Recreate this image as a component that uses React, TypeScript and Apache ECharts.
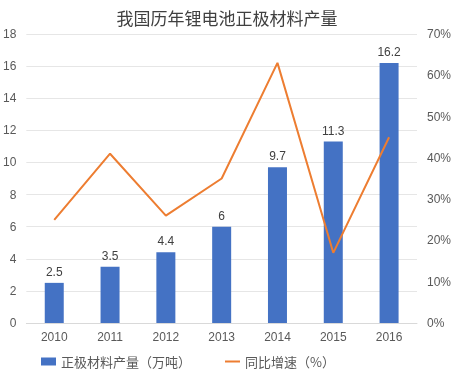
import React, { useEffect, useRef } from "react";
import * as echarts from "echarts";

const categories = ["2010", "2011", "2012", "2013", "2014", "2015", "2016"];
const production = [2.5, 3.5, 4.4, 6, 9.7, 11.3, 16.2];
const growth = [25, 41, 26, 35, 63, 17, 45];

export default function App() {
  const ref = useRef<HTMLDivElement>(null);
  useEffect(() => {
    const chart = echarts.init(ref.current!, null, { renderer: "svg" });
    const font = "'Noto Sans CJK SC', sans-serif";
    const numFont = "'Liberation Sans', 'Noto Sans CJK SC', sans-serif";
    chart.setOption({
      animation: false,
      textStyle: { fontFamily: font },
      title: {
        text: "我国历年锂电池正极材料产量",
        left: "center",
        top: 4,
        textStyle: { fontSize: 17, fontWeight: "normal", color: "#404040", fontFamily: font },
      },
      grid: { left: 25, right: 32, top: 34, bottom: 54 },
      legend: {
        bottom: 4,
        left: 36,
        itemGap: 34,
        itemWidth: 15,
        itemHeight: 8,
        textStyle: { fontSize: 13, color: "#595959", fontFamily: font },
        data: [
          { name: "正极材料产量（万吨）", icon: "rect" },
          { name: "同比增速（%）", icon: "path://M0 0 H15 V2 H0 Z", itemStyle: { color: "#ED7D31" } },
        ],
      },
      xAxis: {
        type: "category",
        data: categories,
        axisLine: { lineStyle: { color: "#D9D9D9" } },
        axisTick: { show: false },
        axisLabel: { color: "#595959", fontSize: 12, margin: 8, fontFamily: numFont },
      },
      yAxis: [
        {
          type: "value",
          min: 0,
          max: 18,
          interval: 2,
          axisLine: { show: false },
          axisTick: { show: false },
          axisLabel: { color: "#595959", fontSize: 12, margin: 10, fontFamily: numFont },
          splitLine: { lineStyle: { color: "#E6E6E6" } },
        },
        {
          type: "value",
          min: 0,
          max: 70,
          interval: 10,
          axisLine: { show: false },
          axisTick: { show: false },
          axisLabel: { color: "#595959", fontSize: 12, formatter: "{value}%", margin: 10, fontFamily: numFont },
          splitLine: { show: false },
        },
      ],
      series: [
        {
          name: "正极材料产量（万吨）",
          type: "bar",
          data: production,
          barWidth: 19,
          itemStyle: { color: "#4472C4" },
          label: { show: true, position: "top", color: "#404040", fontSize: 12, fontFamily: numFont },
        },
        {
          name: "同比增速（%）",
          type: "line",
          yAxisIndex: 1,
          data: growth,
          symbol: "none",
          lineStyle: { color: "#ED7D31", width: 2 },
          itemStyle: { color: "#ED7D31" },
        },
      ],
    });
    return () => chart.dispose();
  }, []);
  return <div ref={ref} style={{ position: "fixed", left: 0, top: 0, width: 454, height: 377 }} />;
}
